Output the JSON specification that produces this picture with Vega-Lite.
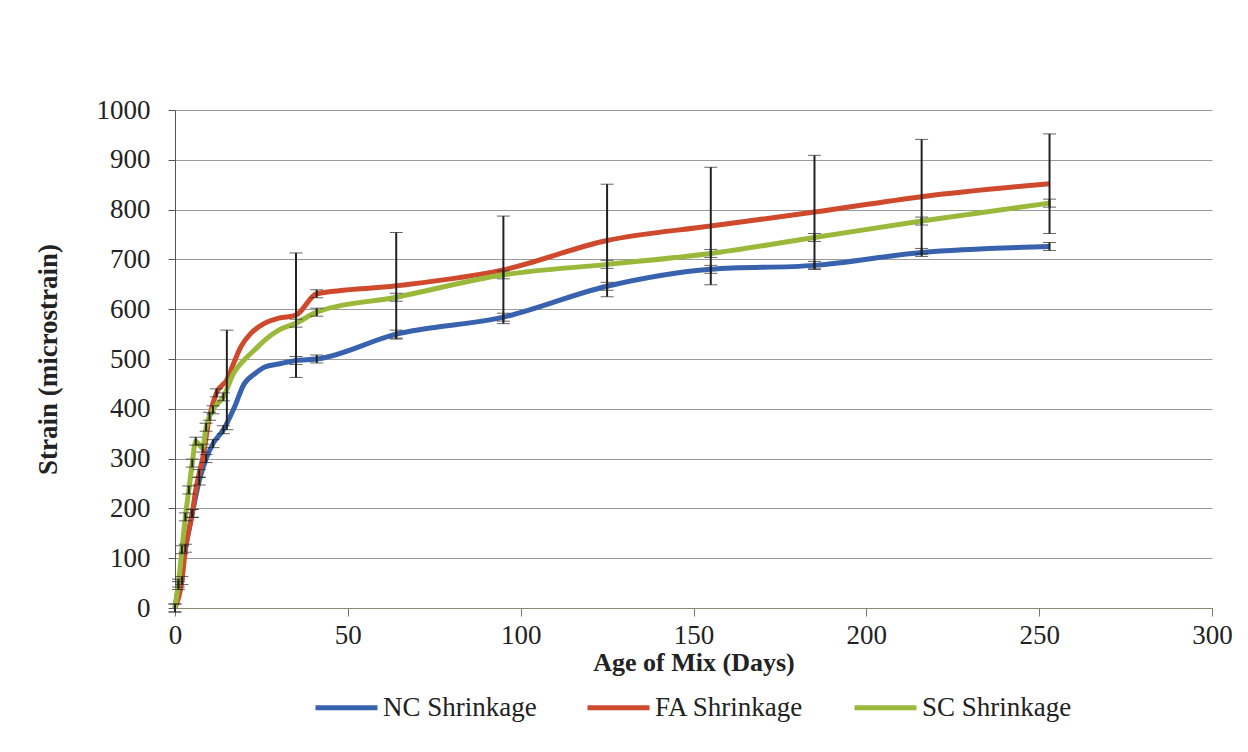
{
  "$schema": "https://vega.github.io/schema/vega-lite/v6.json",
  "width": 1037,
  "height": 498,
  "autosize": {"type": "none"},
  "padding": {"left": 175, "top": 110, "right": 36, "bottom": 144},
  "background": "white",
  "config": {
    "font": "Liberation Serif",
    "view": {"stroke": null},
    "axis": {"labelFont": "Liberation Serif", "titleFont": "Liberation Serif", "labelColor": "#222", "titleColor": "#222"},
    "legend": {"labelFont": "Liberation Serif, Times New Roman, serif", "titleFont": "Liberation Serif"},
    "text": {"font": "Liberation Serif"}
  },
  "data": {
    "values": [
      {"series": "NC Shrinkage", "day": 0, "strain": 0, "err": 8},
      {"series": "NC Shrinkage", "day": 1, "strain": 45, "err": 8},
      {"series": "NC Shrinkage", "day": 3, "strain": 120, "err": 8},
      {"series": "NC Shrinkage", "day": 5, "strain": 190, "err": 8},
      {"series": "NC Shrinkage", "day": 7, "strain": 255, "err": 8},
      {"series": "NC Shrinkage", "day": 9, "strain": 300, "err": 8},
      {"series": "NC Shrinkage", "day": 11, "strain": 330, "err": 8},
      {"series": "NC Shrinkage", "day": 14, "strain": 358, "err": 8},
      {"series": "NC Shrinkage", "day": 17, "strain": 400},
      {"series": "NC Shrinkage", "day": 20, "strain": 450},
      {"series": "NC Shrinkage", "day": 23, "strain": 470},
      {"series": "NC Shrinkage", "day": 26, "strain": 484},
      {"series": "NC Shrinkage", "day": 30, "strain": 490},
      {"series": "NC Shrinkage", "day": 35, "strain": 497, "err": 8},
      {"series": "NC Shrinkage", "day": 41, "strain": 500, "err": 8},
      {"series": "NC Shrinkage", "day": 64, "strain": 550, "err": 8},
      {"series": "NC Shrinkage", "day": 95, "strain": 584, "err": 8},
      {"series": "NC Shrinkage", "day": 125, "strain": 646, "err": 8},
      {"series": "NC Shrinkage", "day": 155, "strain": 680, "err": 8},
      {"series": "NC Shrinkage", "day": 185, "strain": 688, "err": 8},
      {"series": "NC Shrinkage", "day": 216, "strain": 714, "err": 8},
      {"series": "NC Shrinkage", "day": 253, "strain": 726, "err": 8},

      {"series": "FA Shrinkage", "day": 0, "strain": 0},
      {"series": "FA Shrinkage", "day": 2, "strain": 55, "err": 8},
      {"series": "FA Shrinkage", "day": 3, "strain": 117},
      {"series": "FA Shrinkage", "day": 5, "strain": 190, "err": 8},
      {"series": "FA Shrinkage", "day": 6, "strain": 237},
      {"series": "FA Shrinkage", "day": 7, "strain": 270, "err": 8},
      {"series": "FA Shrinkage", "day": 8, "strain": 300},
      {"series": "FA Shrinkage", "day": 10, "strain": 385, "err": 8},
      {"series": "FA Shrinkage", "day": 12, "strain": 432, "err": 8},
      {"series": "FA Shrinkage", "day": 15, "strain": 458, "err": 100},
      {"series": "FA Shrinkage", "day": 17, "strain": 492},
      {"series": "FA Shrinkage", "day": 19, "strain": 524},
      {"series": "FA Shrinkage", "day": 22, "strain": 552},
      {"series": "FA Shrinkage", "day": 26, "strain": 572},
      {"series": "FA Shrinkage", "day": 30, "strain": 582},
      {"series": "FA Shrinkage", "day": 35, "strain": 588, "err": 125},
      {"series": "FA Shrinkage", "day": 41, "strain": 631, "err": 8},
      {"series": "FA Shrinkage", "day": 64, "strain": 647, "err": 107},
      {"series": "FA Shrinkage", "day": 95, "strain": 679, "err": 108},
      {"series": "FA Shrinkage", "day": 125, "strain": 738, "err": 113},
      {"series": "FA Shrinkage", "day": 155, "strain": 767, "err": 118},
      {"series": "FA Shrinkage", "day": 185, "strain": 795, "err": 114},
      {"series": "FA Shrinkage", "day": 216, "strain": 826, "err": 115},
      {"series": "FA Shrinkage", "day": 253, "strain": 852, "err": 100},

      {"series": "SC Shrinkage", "day": 0, "strain": 0, "err": 8},
      {"series": "SC Shrinkage", "day": 1, "strain": 50, "err": 8},
      {"series": "SC Shrinkage", "day": 2, "strain": 117, "err": 8},
      {"series": "SC Shrinkage", "day": 3, "strain": 183, "err": 8},
      {"series": "SC Shrinkage", "day": 4, "strain": 237, "err": 8},
      {"series": "SC Shrinkage", "day": 5, "strain": 291, "err": 8},
      {"series": "SC Shrinkage", "day": 6, "strain": 335, "err": 8},
      {"series": "SC Shrinkage", "day": 8, "strain": 321, "err": 8},
      {"series": "SC Shrinkage", "day": 9, "strain": 363, "err": 8},
      {"series": "SC Shrinkage", "day": 11, "strain": 398, "err": 8},
      {"series": "SC Shrinkage", "day": 14, "strain": 424, "err": 8},
      {"series": "SC Shrinkage", "day": 17, "strain": 472},
      {"series": "SC Shrinkage", "day": 20, "strain": 498},
      {"series": "SC Shrinkage", "day": 23, "strain": 518},
      {"series": "SC Shrinkage", "day": 26, "strain": 538},
      {"series": "SC Shrinkage", "day": 30, "strain": 558},
      {"series": "SC Shrinkage", "day": 35, "strain": 572, "err": 8},
      {"series": "SC Shrinkage", "day": 41, "strain": 594, "err": 8},
      {"series": "SC Shrinkage", "day": 64, "strain": 624, "err": 8},
      {"series": "SC Shrinkage", "day": 95, "strain": 669, "err": 8},
      {"series": "SC Shrinkage", "day": 125, "strain": 690, "err": 8},
      {"series": "SC Shrinkage", "day": 155, "strain": 712, "err": 8},
      {"series": "SC Shrinkage", "day": 185, "strain": 744, "err": 8},
      {"series": "SC Shrinkage", "day": 216, "strain": 777, "err": 8},
      {"series": "SC Shrinkage", "day": 253, "strain": 813, "err": 8}
    ]
  },
  "layer": [
    {
      "mark": {"type": "line", "strokeWidth": 5, "interpolate": "monotone"},
      "encoding": {
        "x": {
          "field": "day", "type": "quantitative", "title": "Age of Mix (Days)",
          "scale": {"domain": [0, 300], "nice": false},
          "axis": {
            "values": [0, 50, 100, 150, 200, 250, 300], "format": "d",
            "grid": false, "labelFontSize": 27, "titleFontSize": 26, "titleFontWeight": "bold",
            "labelPadding": 6, "titlePadding": 1, "tickSize": 8, "tickColor": "#777",
            "domainColor": "#8a8a70", "labelFlush": false
          }
        },
        "y": {
          "field": "strain", "type": "quantitative", "title": "Strain (microstrain)",
          "scale": {"domain": [0, 1000], "nice": false},
          "axis": {
            "values": [0, 100, 200, 300, 400, 500, 600, 700, 800, 900, 1000], "format": "d",
            "gridColor": "#9a9a9a", "gridWidth": 1.2, "labelFontSize": 27, "titleFontSize": 27,
            "titleFontWeight": "bold", "labelPadding": 18, "titlePadding": 34, "tickSize": 7,
            "tickColor": "#555", "domainColor": "#555"
          }
        },
        "color": {
          "field": "series", "type": "nominal",
          "scale": {"domain": ["NC Shrinkage", "FA Shrinkage", "SC Shrinkage"], "range": ["#3862AE", "#CF4A2C", "#9AB83A"]},
          "legend": {
            "title": null, "orient": "none", "direction": "horizontal", "legendX": 138, "legendY": 564,
            "labelFontSize": 27, "labelColor": "#222",
            "symbolType": "stroke", "symbolStrokeWidth": 5, "symbolSize": 3844,
            "columnPadding": 40, "labelOffset": 3
          }
        }
      }
    },
    {
      "transform": [{"filter": "datum.err != null"}],
      "mark": {"type": "errorbar", "ticks": {"size": 13, "color": "#222", "strokeWidth": 2}, "rule": {"color": "#222", "strokeWidth": 2}},
      "encoding": {
        "x": {"field": "day", "type": "quantitative", "title": "Age of Mix (Days)"},
        "y": {"field": "strain", "type": "quantitative", "title": "Strain (microstrain)"},
        "yError": {"field": "err"}
      }
    }
  ]
}
